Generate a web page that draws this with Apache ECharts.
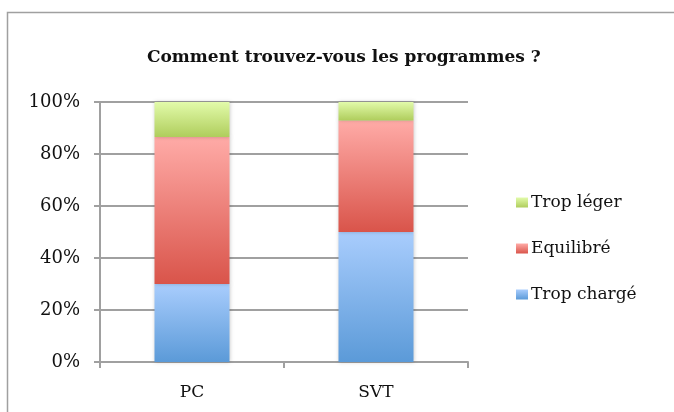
<!DOCTYPE html>
<html>
<head>
<meta charset="utf-8">
<script src="https://cdn.jsdelivr.net/npm/echarts@6/dist/echarts.min.js"></script>
<style>
    html, body { margin: 0; padding: 0; background: #fff; }
    #chartContainer01 { width: 674px; height: 412px; }
</style>
</head>
<body>
<div id="chartContainer01"></div>
<script>
// survey results, in percent of answers per subject
const categories = ['PC', 'SVT']
const tropCharge = [30, 50]
const equilibre = [56.5, 42.9]
const tropLeger = [13.5, 7.1]
const yTicks = [0, 20, 40, 60, 80, 100]

const font = 'DejaVu Serif'

const grad = (top, bottom) => new echarts.graphic.LinearGradient(0, 0, 0, 1, [
    { offset: 0, color: top },
    { offset: 1, color: bottom }
])

const makeSeries = (name, data, top, bottom) => {
    return {
        name,
        type: 'bar',
        stack: 'total',
        data,
        barWidth: 75,
        itemStyle: {
            color: grad(top, bottom),
            shadowBlur: 4,
            shadowColor: 'rgba(0,0,0,0.22)'
        }
    }
}

const chart = echarts.init(document.getElementById('chartContainer01'))
const option = {
    animation: false,
    title: {
        text: 'Comment trouvez-vous les programmes ?',
        left: 142,
        top: 44,
        textStyle: { fontFamily: font, fontSize: 17, fontWeight: 'bold', color: '#111' }
    },
    graphic: [{
        type: 'rect',
        shape: { x: 7.5, y: 12.5, width: 700, height: 450 },
        style: { fill: 'none', stroke: '#a0a0a0', lineWidth: 1.5 },
        silent: true
    }],
    legend: {
        orient: 'vertical',
        left: 511,
        top: 189,
        itemWidth: 12,
        itemHeight: 10,
        itemGap: 29,
        icon: 'rect',
        data: ['Trop léger', 'Equilibré', 'Trop chargé'],
        textStyle: { fontFamily: font, fontSize: 17, color: '#111', padding: [0, 0, 0, -2] }
    },
    grid: { left: 100, right: 206, top: 102, bottom: 50 },
    xAxis: {
        type: 'category',
        data: categories,
        axisLine: { lineStyle: { color: '#a0a0a0', width: 2 } },
        axisTick: { show: true, length: 6, lineStyle: { color: '#a0a0a0', width: 2 } },
        axisLabel: { fontFamily: font, fontSize: 17, color: '#111', margin: 22 }
    },
    yAxis: {
        type: 'value',
        min: yTicks[0],
        max: yTicks[yTicks.length - 1],
        interval: 20,
        axisLine: { show: true, lineStyle: { color: '#a0a0a0', width: 2 } },
        axisTick: { show: true, length: 6, lineStyle: { color: '#a0a0a0', width: 2 } },
        splitLine: { lineStyle: { color: '#a0a0a0', width: 2 } },
        axisLabel: { fontFamily: font, fontSize: 18, color: '#111', margin: 20, formatter: '{value}%' }
    },
    series: [
        makeSeries('Trop chargé', tropCharge, '#a9cdfd', '#5b9ad8'),
        makeSeries('Equilibré', equilibre, '#ffaba7', '#d9544a'),
        makeSeries('Trop léger', tropLeger, '#e2fbaa', '#afcd5c')
    ]
}
chart.setOption(option)
</script>
</body>
</html>
